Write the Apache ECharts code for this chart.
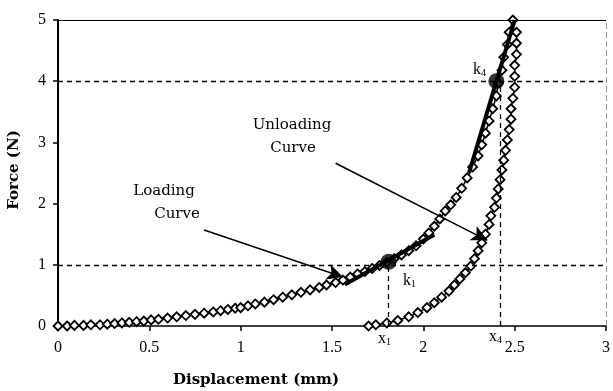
<!DOCTYPE html>
<html>
<head>
<meta charset="utf-8">
<script src="https://cdn.jsdelivr.net/npm/echarts@6/dist/echarts.min.js"></script>
<style>
  html, body { margin: 0; padding: 0; background: #fff; }
  #chart { width: 613px; height: 391px; }
</style>
</head>
<body>
<div id="chart"></div>
<script>
// loading curve (displacement mm, force N)
var loadingX = [0.00, 0.05, 0.09, 0.14, 0.18, 0.23, 0.27, 0.31, 0.35, 0.39, 0.43, 0.47, 0.51, 0.55, 0.60, 0.65,
  0.70, 0.75, 0.80, 0.85, 0.89, 0.93, 0.97, 1.00, 1.04, 1.08, 1.13, 1.18, 1.23, 1.28, 1.33, 1.38, 1.43, 1.47,
  1.52, 1.56, 1.60, 1.64, 1.68, 1.72, 1.76, 1.80, 1.84, 1.88, 1.92, 1.96, 2.00, 2.03, 2.06, 2.09, 2.12, 2.15,
  2.18, 2.21, 2.24, 2.27, 2.30, 2.32, 2.34, 2.36, 2.38, 2.40, 2.41, 2.43, 2.44, 2.46, 2.47, 2.49]
var loadingY = [0.00, 0.00, 0.01, 0.01, 0.02, 0.02, 0.03, 0.04, 0.05, 0.06, 0.07, 0.08, 0.10, 0.11, 0.13, 0.15,
  0.17, 0.19, 0.21, 0.23, 0.25, 0.27, 0.29, 0.30, 0.33, 0.36, 0.39, 0.43, 0.47, 0.51, 0.55, 0.59, 0.63, 0.67,
  0.71, 0.75, 0.80, 0.85, 0.89, 0.94, 0.99, 1.04, 1.10, 1.16, 1.23, 1.31, 1.42, 1.52, 1.63, 1.75, 1.88, 1.98,
  2.10, 2.25, 2.42, 2.60, 2.78, 2.96, 3.15, 3.35, 3.55, 3.76, 3.97, 4.18, 4.39, 4.60, 4.80, 5.00]

// unloading curve
var unloadingX = [2.51, 2.51, 2.51, 2.50, 2.50, 2.50, 2.49, 2.48, 2.48, 2.47, 2.46, 2.45, 2.44, 2.43, 2.42, 2.41,
  2.40, 2.39, 2.37, 2.36, 2.34, 2.32, 2.30, 2.28, 2.26, 2.23, 2.20, 2.17, 2.14, 2.10, 2.06, 2.02, 1.97, 1.92,
  1.86, 1.80, 1.74, 1.70]
var unloadingY = [4.80, 4.62, 4.44, 4.26, 4.08, 3.90, 3.72, 3.55, 3.38, 3.21, 3.04, 2.87, 2.71, 2.55, 2.39, 2.24,
  2.09, 1.94, 1.80, 1.66, 1.50, 1.36, 1.23, 1.10, 0.98, 0.87, 0.77, 0.67, 0.57, 0.47, 0.38, 0.30, 0.22, 0.15,
  0.09, 0.05, 0.02, 0.00]

// stiffness points and tangents
var k1 = [1.81, 1.05]
var k4 = [2.40, 4.00]
var tangent1 = [[1.57, 0.68], [2.06, 1.49]]
var tangent4 = [[2.25, 2.50], [2.50, 5.00]]

var xTicks = ['0', '0.5', '1', '1.5', '2', '2.5', '3']
var yTicks = ['0', '1', '2', '3', '4', '5']

function pairs(xs, ys) {
  return xs.map(function (x, i) { return [x, ys[i]] })
}

var serif = 'Liberation Serif, Times New Roman, serif'
var wide = '"DejaVu Serif", serif'
var chart = echarts.init(document.getElementById('chart'))

var diamondStyle = {
  type: 'line',
  symbol: 'diamond',
  symbolSize: 9,
  itemStyle: { color: '#fff', borderColor: '#000', borderWidth: 1.8 },
  lineStyle: { color: '#000', width: 1.5 },
  z: 3
}

function sub(main, idx, left, top) {
  return {
    type: 'text', left: left, top: top,
    style: {
      text: '{a|' + main + '}{b|' + idx + '}', fill: '#000',
      rich: {
        a: { fontFamily: serif, fontSize: 16 },
        b: { fontFamily: serif, fontSize: 10, verticalAlign: 'bottom', padding: [7, 0, 0, 0] }
      }
    }
  }
}

function note(text, cx, top) {
  return {
    type: 'text', x: cx, y: top,
    style: { text: text, font: '15px ' + wide, fill: '#000', align: 'center' }
  }
}

var option = {
  animation: false,
  grid: { left: 58, right: 3, top: 20, bottom: 65 },
  xAxis: {
    type: 'value',
    min: 0,
    max: 3,
    interval: 0.5,
    axisLine: { lineStyle: { color: '#000', width: 1.5 } },
    axisTick: { lineStyle: { color: '#000', width: 1.5 }, length: 5 },
    axisLabel: {
      color: '#000', fontFamily: serif, fontSize: 16, margin: 14,
      formatter: function (v) { return xTicks[Math.round(v * 2)] }
    },
    splitLine: { show: false }
  },
  yAxis: {
    type: 'value',
    min: 0,
    max: 5,
    interval: 1,
    axisLine: { show: true, lineStyle: { color: '#000', width: 2 } },
    axisTick: { show: true, lineStyle: { color: '#000', width: 1.5 }, length: 5 },
    axisLabel: {
      color: '#000', fontFamily: serif, fontSize: 16, margin: 12,
      formatter: function (v) { return yTicks[Math.round(v)] }
    },
    splitLine: { show: false }
  },
  graphic: [
    note('Loading', 164, 184),
    note('Curve', 177, 207),
    note('Unloading', 292, 118),
    note('Curve', 293, 141),
    {
      type: 'text', x: 14, y: 170, rotation: Math.PI / 2,
      style: { text: 'Force (N)', font: 'bold 15px ' + wide, fill: '#000', align: 'center', verticalAlign: 'middle' }
    },
    {
      type: 'text', x: 256, y: 373,
      style: { text: 'Displacement (mm)', font: 'bold 15px ' + wide, fill: '#000', align: 'center' }
    },
    sub('k', '4', 473, 62),
    sub('k', '1', 403, 273),
    sub('x', '1', 378, 331),
    sub('x', '4', 489, 329)
  ],
  series: [
    {
      // frame and dashed reference lines
      type: 'line',
      data: [],
      markLine: {
        silent: true,
        symbol: 'none',
        label: { show: false },
        lineStyle: { color: '#000', width: 1.3, type: [5, 4] },
        data: [
          { yAxis: 1 },
          { yAxis: 4 },
          { yAxis: 5, lineStyle: { type: 'solid', width: 1.2 } },
          { xAxis: 3, lineStyle: { color: '#999', width: 1, type: [6, 3] } },
          [{ coord: [k1[0], 0] }, { coord: [k1[0], k1[1]] }],
          [{ coord: [2.42, 0] }, { coord: [2.42, k4[1]] }]
        ]
      }
    },
    {
      // annotation arrows
      type: 'line',
      data: [],
      markLine: {
        silent: true,
        symbol: ['none', 'arrow'],
        symbolSize: [12, 16],
        label: { show: false },
        lineStyle: { color: '#000', width: 1.5, type: 'solid' },
        data: [
          [{ coord: [0.80, 1.57] }, { coord: [1.56, 0.80] }],
          [{ coord: [1.52, 2.66] }, { coord: [2.35, 1.40] }]
        ]
      }
    },
    Object.assign({ name: 'Loading', data: pairs(loadingX, loadingY) }, diamondStyle),
    Object.assign({ name: 'Unloading', data: pairs(unloadingX, unloadingY) }, diamondStyle),
    {
      type: 'line', data: tangent1, symbol: 'none',
      lineStyle: { color: '#000', width: 4 }, z: 4
    },
    {
      type: 'line', data: tangent4, symbol: 'none',
      lineStyle: { color: '#000', width: 4 }, z: 4
    },
    {
      type: 'scatter', data: [k1, k4], symbol: 'circle', symbolSize: 16,
      itemStyle: { color: '#000' }, z: 5
    }
  ]
}

chart.setOption(option)
</script>
</body>
</html>
